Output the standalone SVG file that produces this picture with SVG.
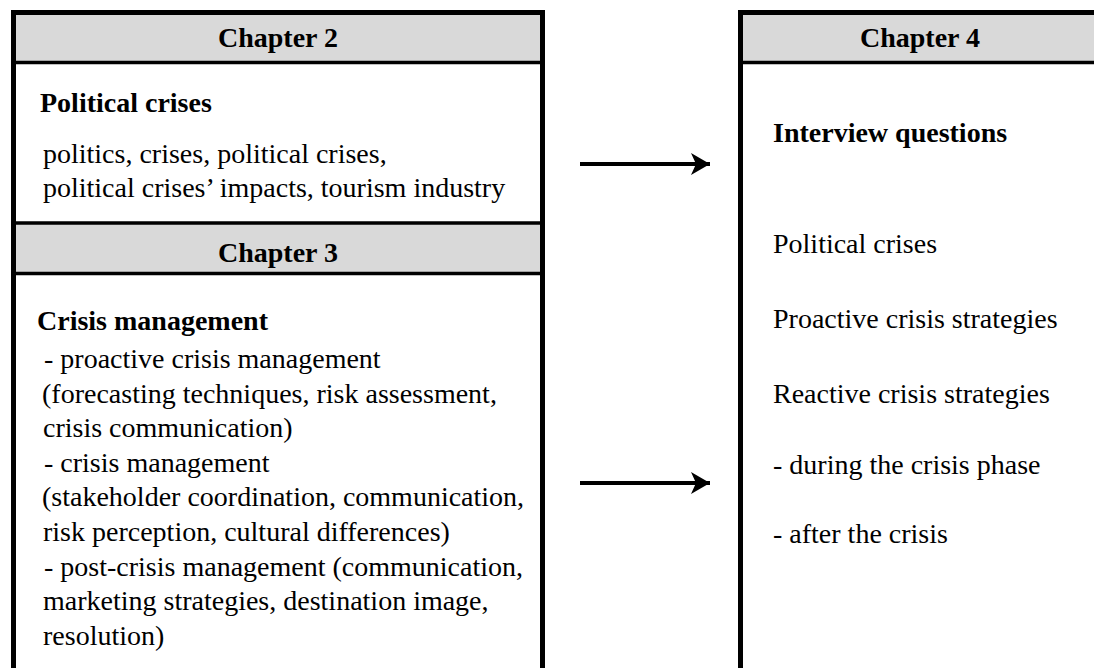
<svg xmlns="http://www.w3.org/2000/svg" width="1094" height="668" viewBox="0 0 1094 668">
  <style>
    .frame { fill: #ffffff; stroke: #000000; stroke-width: 5; }
    .band { fill: #d9d9d9; stroke: none; }
    .rule { stroke: #000000; stroke-width: 3.5; fill: none; }
    .head { font-family: "Liberation Serif", "Times New Roman", serif; font-size: 28px; font-weight: bold; fill: #000000; text-anchor: middle; }
    .title { font-family: "Liberation Serif", "Times New Roman", serif; font-size: 28px; font-weight: bold; fill: #000000; }
    .body { font-family: "Liberation Serif", "Times New Roman", serif; font-size: 28px; fill: #000000; }
    .link { stroke: #000000; stroke-width: 4; fill: none; }
  </style>
  <defs>
    <marker id="arrowhead" markerUnits="userSpaceOnUse" markerWidth="22" markerHeight="24" refX="19" refY="11" orient="auto">
      <path d="M0,0 L19,11 L0,22 L5,11 Z" fill="#000000"/>
    </marker>
  </defs>

  <rect width="1094" height="668" fill="#ffffff"/>

  <!-- Left column: chapters 2 and 3 -->
  <g id="chapter-2">
    <rect class="frame" x="13.5" y="12.5" width="529" height="700"/>
    <rect class="band" x="16" y="15" width="524" height="47.5"/>
    <line class="rule" x1="13.5" y1="62.5" x2="542.5" y2="62.5"/>
    <text class="head" x="278" y="47">Chapter 2</text>
    <text class="title" x="40" y="112">Political crises</text>
    <text class="body" x="43" y="163">politics, crises, political crises,</text>
    <text class="body" x="43" y="197">political crises’ impacts, tourism industry</text>
  </g>

  <g id="chapter-3">
    <rect class="band" x="16" y="223" width="524" height="50.5"/>
    <line class="rule" x1="13.5" y1="223" x2="542.5" y2="223"/>
    <line class="rule" x1="13.5" y1="273.5" x2="542.5" y2="273.5"/>
    <text class="head" x="278" y="262">Chapter 3</text>
    <text class="title" x="37" y="330">Crisis management</text>
    <text class="body" x="44" y="368">- proactive crisis management</text>
    <text class="body" x="42" y="403">(forecasting techniques, risk assessment,</text>
    <text class="body" x="43" y="437">crisis communication)</text>
    <text class="body" x="44" y="472">- crisis management</text>
    <text class="body" x="42" y="506">(stakeholder coordination, communication,</text>
    <text class="body" x="43" y="541">risk perception, cultural differences)</text>
    <text class="body" x="44" y="576">- post-crisis management (communication,</text>
    <text class="body" x="43" y="610">marketing strategies, destination image,</text>
    <text class="body" x="43" y="645">resolution)</text>
  </g>

  <!-- Right column: chapter 4 -->
  <g id="chapter-4">
    <rect class="frame" x="740.5" y="12.5" width="400" height="700"/>
    <rect class="band" x="743" y="15" width="360" height="47.5"/>
    <line class="rule" x1="740.5" y1="62.5" x2="1100" y2="62.5"/>
    <text class="head" x="920" y="47">Chapter 4</text>
    <text class="title" x="773" y="142">Interview questions</text>
    <text class="body" x="773" y="253">Political crises</text>
    <text class="body" x="773" y="328">Proactive crisis strategies</text>
    <text class="body" x="773" y="403">Reactive crisis strategies</text>
    <text class="body" x="773" y="474">- during the crisis phase</text>
    <text class="body" x="773" y="543">- after the crisis</text>
  </g>

  <!-- Connectors -->
  <g id="connectors">
    <line class="link" x1="580" y1="164" x2="710" y2="164" marker-end="url(#arrowhead)"/>
    <line class="link" x1="580" y1="483" x2="710" y2="483" marker-end="url(#arrowhead)"/>
  </g>
</svg>
